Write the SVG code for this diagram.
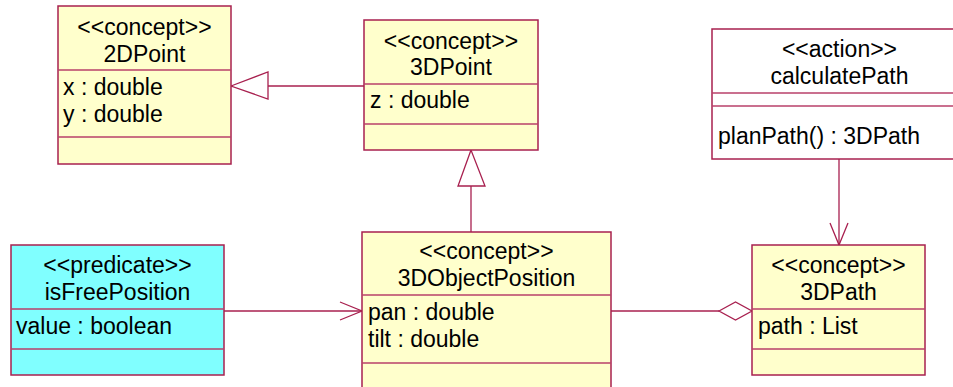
<svg xmlns="http://www.w3.org/2000/svg" width="953" height="387" viewBox="0 0 953 387">
<style>
.box{fill:#FFFFCC;stroke:#A8204F;stroke-width:1.5}
.pred{fill:#80FFFF;stroke:#A8204F;stroke-width:1.5}
.act{fill:#FFFFFF;stroke:#A8204F;stroke-width:1.5}
.sep{stroke:#B8406A;stroke-width:1.5;fill:none}
.ln{stroke:#A8204F;stroke-width:1.3;fill:none}
.hd{fill:#FFFFFF;stroke:#A8204F;stroke-width:1.3}
text{font-family:"Liberation Sans",Arial,sans-serif;font-size:23px;fill:#000}
.c{text-anchor:middle}
</style>
<rect width="953" height="387" fill="#FFFFFF"/>
<g id="connectors">
  <line class="ln" x1="364" y1="86" x2="268" y2="86"/>
  <polygon class="hd" points="231,86 268,72 268,99"/>
  <line class="ln" x1="471" y1="232" x2="471" y2="186"/>
  <polygon class="hd" points="471,150 458,186 485,186"/>
  <line class="ln" x1="839" y1="159" x2="839" y2="245"/>
  <polyline class="ln" points="830,223 839,245 848,223"/>
  <line class="ln" x1="224" y1="311" x2="362" y2="311"/>
  <polyline class="ln" points="340,302 362,311 340,320"/>
  <line class="ln" x1="611" y1="311" x2="719" y2="311"/>
  <polygon class="hd" points="719,311 735.5,302 752,311 735.5,320"/>
</g>
<g id="n2DPoint">
  <rect class="box" x="58" y="6" width="173" height="158"/>
  <line class="sep" x1="58" y1="70" x2="231" y2="70"/>
  <line class="sep" x1="58" y1="137" x2="231" y2="137"/>
  <text class="c" x="144.5" y="35">&lt;&lt;concept&gt;&gt;</text>
  <text class="c" x="144.5" y="62">2DPoint</text>
  <text x="63" y="95">x : double</text>
  <text x="63" y="122">y : double</text>
</g>
<g id="n3DPoint">
  <rect class="box" x="364" y="20" width="174" height="130"/>
  <line class="sep" x1="364" y1="84" x2="538" y2="84"/>
  <line class="sep" x1="364" y1="124" x2="538" y2="124"/>
  <text class="c" x="451" y="49">&lt;&lt;concept&gt;&gt;</text>
  <text class="c" x="451" y="75">3DPoint</text>
  <text x="370" y="108">z : double</text>
</g>
<g id="calculatePath">
  <rect class="act" x="712" y="29" width="255" height="130"/>
  <line class="sep" x1="712" y1="93" x2="967" y2="93"/>
  <line class="sep" x1="712" y1="106" x2="967" y2="106"/>
  <text class="c" x="839.5" y="57">&lt;&lt;action&gt;&gt;</text>
  <text class="c" x="839.5" y="84">calculatePath</text>
  <text x="718" y="144">planPath() : 3DPath</text>
</g>
<g id="isFreePosition">
  <rect class="pred" x="11" y="245" width="213" height="130"/>
  <line class="sep" x1="11" y1="309" x2="224" y2="309"/>
  <line class="sep" x1="11" y1="349" x2="224" y2="349"/>
  <text class="c" x="117.5" y="273">&lt;&lt;predicate&gt;&gt;</text>
  <text class="c" x="117.5" y="300">isFreePosition</text>
  <text x="16" y="334">value : boolean</text>
</g>
<g id="n3DObjectPosition">
  <rect class="box" x="362" y="232" width="249" height="170"/>
  <line class="sep" x1="362" y1="295" x2="611" y2="295"/>
  <line class="sep" x1="362" y1="363" x2="611" y2="363"/>
  <text class="c" x="486.5" y="259">&lt;&lt;concept&gt;&gt;</text>
  <text class="c" x="486.5" y="286">3DObjectPosition</text>
  <text x="368" y="320">pan : double</text>
  <text x="368" y="347">tilt : double</text>
</g>
<g id="n3DPath">
  <rect class="box" x="752" y="245" width="173" height="130"/>
  <line class="sep" x1="752" y1="309" x2="925" y2="309"/>
  <line class="sep" x1="752" y1="349" x2="925" y2="349"/>
  <text class="c" x="838.5" y="273">&lt;&lt;concept&gt;&gt;</text>
  <text class="c" x="838.5" y="300">3DPath</text>
  <text x="758" y="334">path : List</text>
</g>
</svg>
